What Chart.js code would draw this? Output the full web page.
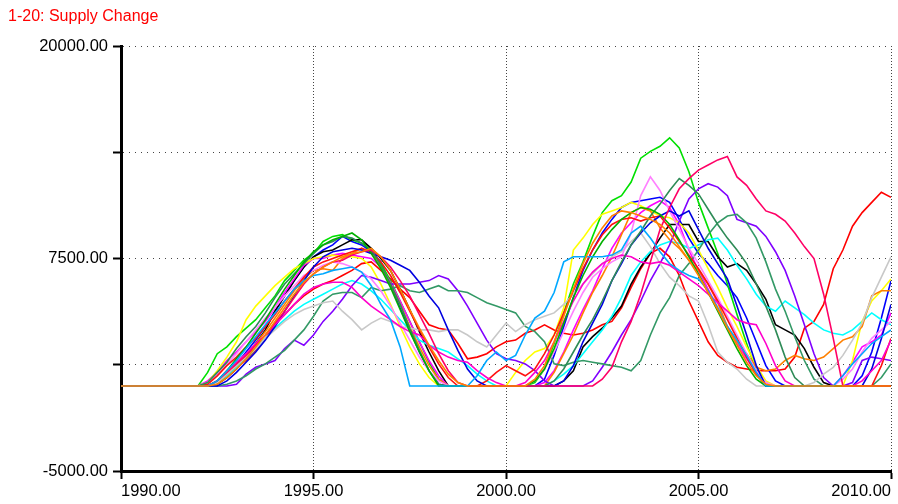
<!DOCTYPE html>
<html>
<head>
<meta charset="utf-8">
<title>Supply Change</title>
<script src="https://cdn.jsdelivr.net/npm/chart.js@4.4.1/dist/chart.umd.min.js"></script>
<style>
  html, body { margin: 0; padding: 0; background: #fff; }
  #chartBox { width: 898px; height: 504px; }
</style>
</head>
<body>
<div id="chartBox"><canvas id="supplyChart" width="898" height="504"></canvas></div>
<script>
// sensitivity runs 1-20, one value every quarter year from 1990.00 to 2010.00
var runTitle = "1-20: Supply Change";

var xTicks = [1990, 1995, 2000, 2005, 2010];
var yTicks = [-5000, 1250, 7500, 13750, 20000];
var yLabelled = [-5000, 7500, 20000];

var redRun = [0,0,0,0, 0,0,0,0, 0,0,300,700, 1100,1500,2100,2800, 3600,4200,4800,5300, 5700,6000,6200,6500,
  6800,7200,7300,6800, 6300,5700,5200,4400, 3600,3400,3300,2500, 1600,1700,1900,2300, 2600,2700,3100,3300,
  3600,3300,3100,3000, 3100,3300,3600,3800, 4600,5800,6900,7800, 8100,7600,6500,5000, 3800,2600,1800,1400,
  1100,1000,900,900, 900,1000,1700,3400, 3800,4800,6900,8000, 9400,10200,10800,11400, 11100];
var blueRun = [0,0,0,0, 0,0,0,0, 0,0,200,700, 1300,2000,2700,3500, 4400,5300,6200,7000, 7600,8000,8300,8800,
  8500,8300,7900,7300, 6000,4600,3300,2000, 900,100,0,0, 0,0,0,0, 0,0,0,0,
  400,1800,3500,5200, 6800,8000,9000,9800, 10500,10800,10900,11000, 11100,10800,9800,8700, 7800,7200,6500,5900,
  5200,4000,2600,1200, 300,0,0,0, 0,0,0,0, 0,600,2000,4000, 6200];
var greenRun = [0,0,0,0, 0,0,0,0, 0,800,1900,2300, 2900,3400,3900,4600, 5300,6200,6800,7400, 7800,8500,8800,8900,
  8600,8400,8000,7200, 6200,5000,3800,2600, 1400,400,0,0, 0,0,0,0, 0,0,0,200,
  1000,2500,4300,6000, 7300,8800,10200,10900, 11200,12000,13400,13800, 14100,14600,14000,12600, 10800,9300,7800,6000,
  4200,2500,900,0, 0,0,0,0, 0,0,0,0, 0,0,0,0, 0];
var blackRun = [0,0,0,0, 0,0,0,0, 0,0,100,500, 1000,1700,2500,3300, 4400,5300,6200,7000, 7600,7900,8000,8300,
  8600,8600,8100,7500, 6800,5700,4500,3200, 2000,900,0,0, 0,0,0,0, 0,0,0,0,
  0,0,300,900, 2300,2900,3400,4000, 4700,6000,7000,7800, 8700,9500,9500,9500, 8500,8500,7600,7000,
  7200,6800,6000,5100, 3600,3300,3000,2200, 1100,200,0,0, 0,0,0,0, 0];
var magentaRun = [0,0,0,0, 0,0,0,0, 0,300,800,1500, 2000,2600,3200,3800, 4600,5500,6300,7100, 7500,7500,7700,7800,
  7700,7600,7500,7000, 6100,5000,3800,2600, 1500,600,0,0, 0,0,0,0, 0,0,0,0,
  200,900,2000,3300, 4500,5600,6900,8100, 9000,9600,10200,10600, 10900,10500,9500,8000, 6800,5700,4600,3500,
  2500,1600,800,200, 0,0,0,0, 0,0,0,600, 1400,2300,2600,3000, 4300];
var cyanRun = [0,0,0,0, 0,0,0,0, 0,0,200,600, 1100,1600,2200,2800, 3400,3900,4400,4800, 5100,5400,5700,6000,
  6200,6000,5600,5100, 4500,3900,3300,2700, 2400,2200,2000,1600, 1200,700,300,0, 0,0,0,0,
  0,300,700,1200, 1900,2600,3300,4100, 5200,6500,7300,7900, 8300,8500,8400,8100, 8300,8600,8700,8000,
  7100,6300,5400,4700, 4400,5000,4600,4200, 3700,3300,3100,3000, 3300,3800,4300,3900, 3600];
var yellowRun = [0,0,0,0, 0,0,0,0, 0,200,900,1700, 2600,3900,4700,5300, 5900,6400,6900,7200, 7500,7600,7700,7600,
  7600,7500,7000,6000, 4800,3500,2300,1300, 500,0,0,0, 0,0,0,0, 0,800,1500,2000,
  2200,3000,4600,8000, 8700,9500,10100,10300, 10500,10800,10600,10300, 10000,9900,9600,9000, 8000,6900,5800,4600,
  3500,2300,1200,300, 0,0,0,0, 0,0,0,0, 1500,3800,5000,5600, 6300];
var amberRun = [0,0,0,0, 0,0,0,0, 0,0,200,700, 1200,1800,2500,3200, 4000,4800,5600,6300, 6800,6900,6800,7500,
  7800,8100,7800,7000, 6000,4800,3500,2300, 1200,400,0,0, 0,0,0,0, 0,0,0,0,
  0,800,1900,3000, 4300,5500,6500,7600, 8900,10200,10500,10300, 9300,8600,8100,7400, 6800,6000,4900,3500,
  2600,1900,1100,900, 1000,1500,1800,1600, 1500,1700,2200,2700, 2900,3500,5300,5600, 5600];
var purpleRun = [0,0,0,0, 0,0,0,0, 0,0,0,0, 100,700,1100,1300, 1500,2200,2700,2400, 3000,3800,4400,5100,
  5900,6500,6400,6200, 6000,6000,6000,6100, 6200,6500,6300,5600, 4700,3700,2700,1900, 1600,1500,1300,900,
  300,0,0,0, 0,300,1100,2000, 3000,3900,5000,6200, 7200,8300,9700,11000, 11600,11900,11700,11200,
  9800,9600,9400,8800, 7900,6800,5300,3600, 1900,500,0,0, 200,1500,1700,1600, 1500];
var seaRun = [0,0,0,0, 0,0,0,0, 0,0,0,100, 300,600,1000,1300, 1700,2100,2700,3300, 4100,5000,5400,5500,
  5500,5200,5800,5600, 5700,5900,5600,5500, 5700,5900,5600,5600, 5500,5200,4900,4700, 4500,4300,3500,3200,
  2600,1300,1200,1400, 1500,1400,1300,1200, 1100,900,1500,3000, 4300,5200,6500,7200, 8000,8900,9600,10000,
  10100,9600,8700,7300, 5700,4400,2900,1500, 400,0,0,0, 0,0,0,500, 1300];
var grayRun = [0,0,0,0, 0,0,0,0, 0,0,200,700, 1200,1700,2200,2800, 3300,3800,4200,4500, 4700,4900,5000,4400,
  3900,3300,3700,4000, 3800,3500,3400,3300, 3300,3200,3300,3300, 3000,2600,2300,3000, 3700,3200,3600,3900,
  4100,4300,4800,5400, 6000,6600,7200,7600, 7900,8500,9000,8200, 7200,6400,5900,5300, 5000,3600,2000,1400,
  1000,400,0,0, 0,0,0,0, 200,700,1100,1800, 2700,3700,5200,6400, 7600];
var violetRun = [0,0,0,0, 0,0,0,0, 0,200,700,1300, 1900,2600,3300,4000, 4600,5300,5900,6500, 6800,7100,7300,7200,
  7000,6700,6300,5600, 4700,3700,2700,1700, 900,300,0,0, 0,0,0,0, 0,0,0,300,
  1000,2000,3200,4400, 5500,6400,6900,7300, 7600,9000,11200,12300, 11500,10300,9200,8100, 7200,6200,5200,4100,
  3000,1900,900,200, 0,0,0,0, 0,0,0,400, 1000,2000,2800,3300, 3800];
var red2Run = [0,0,0,0, 0,0,0,0, 0,100,600,1200, 1700,2300,2800,3500, 4200,5000,5700,6400, 7000,7300,7500,7700,
  7900,8100,7900,7300, 6500,5500,4400,3300, 2300,1300,500,0, 0,0,300,800, 1200,900,600,1000,
  1900,3000,4300,5600, 6900,8000,8900,9500, 9800,9900,9700,9900, 10000,9300,8500,7700, 6900,6000,5000,3900,
  2800,1700,700,0, 0,0,0,0, 0,0,0,0, 0,0,0,1200, 2800];
var blue2Run = [0,0,0,0, 0,0,0,0, 0,0,0,300, 800,1400,2000,2700, 3500,4400,5300,6200, 7000,7600,7900,8000,
  8100,8000,7800,7600, 7400,7100,6800,6100, 5300,4600,3300,2100, 1000,300,0,0, 0,0,0,0,
  0,0,300,1200, 2600,3700,4800,6200, 7200,8300,9000,9600, 10000,10300,10000,10300, 9200,8100,7200,6300,
  4700,3000,1200,0, 0,0,0,0, 0,0,0,0, 0,0,1000,2800, 4800];
var pinkRun = [0,0,0,0, 0,0,0,0, 0,0,300,900, 1400,1900,2500,3000, 3600,4200,4800,5400, 5800,6000,6100,6100,
  5800,5200,4700,4300, 3900,3500,3200,3000, 2400,2000,1700,1500, 1400,900,500,200, 0,0,200,800,
  1500,2600,3800,5000, 6000,6700,7200,7500, 7700,7600,7300,7200, 7300,7100,6700,6300, 5900,5400,4900,4400,
  3900,3700,3600,2500, 1200,300,0,0, 0,0,0,0, 0,300,900,1500, 2700];
var sea2Run = [0,0,0,0, 0,0,0,0, 0,200,800,1400, 2200,2900,3500,4300, 5200,6000,6600,7200, 7800,8300,8500,8800,
  8700,8400,8000,7100, 6000,4800,3400,2100, 900,100,0,0, 0,0,0,0, 0,0,0,0,
  0,300,1000,2000, 3000,3900,5000,6200, 7300,8300,9100,10000, 10700,11500,12200,11800, 11300,10400,9500,8700,
  8000,7200,6000,4700, 3300,1700,500,0, 0,0,0,0, 0,0,0,0, 0];
var green2Run = [0,0,0,0, 0,0,0,0, 0,0,300,900, 1600,2300,3100,3900, 4800,5700,6500,7300, 7900,8300,8600,8800,
  9000,8600,7800,6900, 5800,4500,3200,2000, 900,0,0,0, 0,0,0,0, 0,0,0,300,
  1000,2200,3700,5200, 6500,7600,8500,9200, 9800,10200,10500,10400, 10100,9500,8600,7600, 6600,5500,4400,3300,
  2200,1200,400,0, 0,0,0,0, 0,0,0,0, 0,0,0,0, 0];
var crimsonRun = [0,0,0,0, 0,0,0,0, 0,0,300,800, 1300,1800,2400,3000, 3700,4400,5200,6000, 6600,7000,7300,7400,
  7700,7900,8000,7600, 7000,6200,5300,4200, 3100,1900,900,200, 0,0,0,0, 0,0,0,0,
  0,0,0,0, 0,0,400,1100, 2600,3800,5400,7300, 9200,10500,11600,12200, 12700,13000,13300,13500,
  12300,11800,11000,10300, 10100,9700,9000,8200, 7500,5400,2800,0, 0,0,0,0, 0];
var skyRun = [0,0,0,0, 0,0,0,0, 0,0,300,900, 1500,2200,2900,3600, 4300,5000,5700,6200, 6500,6600,6800,6900,
  7000,6700,5900,4800, 3900,2300,0,0, 0,0,0,0, 0,600,1500,2000, 1500,1800,3000,4000,
  4400,5500,7300,7600, 7600,7600,7600,7700, 8000,9000,9400,8700, 7900,7200,6800,6500, 6300,5600,4600,3500,
  2700,1800,800,0, 0,0,0,0, 0,0,0,600, 1300,1900,2500,2900, 3300];
var orangeRun = [0,0,0,0, 0,0,0,0, 0,0,100,500, 1000,1600,2300,3000, 3800,4600,5400,6100, 6600,7000,7300,7600,
  7800,7900,8100,7600, 6800,5700,4500,3400, 2400,1500,700,200, 0,0,0,0, 0,0,0,400,
  1200,2600,4100,5700, 7200,8400,9300,10000, 10300,10200,10000,9800, 9500,9000,8200,7400, 6500,5500,4500,3400,
  2400,1400,600,100, 0,0,0,0, 0,0,0,0, 0,0,0,0, 0];

// bottom to top drawing order
var runs = [
  {values: redRun, color: "#ff0000"},
  {values: blueRun, color: "#0000ff"},
  {values: greenRun, color: "#00e000"},
  {values: blackRun, color: "#000000"},
  {values: magentaRun, color: "#ff00ff"},
  {values: cyanRun, color: "#00ffff"},
  {values: yellowRun, color: "#ffff00"},
  {values: amberRun, color: "#ff8000"},
  {values: purpleRun, color: "#8000ff"},
  {values: seaRun, color: "#339966"},
  {values: grayRun, color: "#c8c8c8"},
  {values: violetRun, color: "#ff80ff"},
  {values: red2Run, color: "#ff1010"},
  {values: blue2Run, color: "#0000e0"},
  {values: pinkRun, color: "#ff00cc"},
  {values: sea2Run, color: "#2e8b57"},
  {values: green2Run, color: "#00b000"},
  {values: crimsonRun, color: "#ff0066"},
  {values: skyRun, color: "#00a8ff"},
  {values: orangeRun, color: "#ff8000"}
];

// quarter-year time axis
var times = [];
for (var i = 0; i < redRun.length; i++) times.push(1990 + i * 0.25);

var tickFont = {family: "'Liberation Sans', Arial, sans-serif", size: 16.5};

var datasets = runs.map(function(r, idx) {
  return {
    label: "Run " + (idx + 1),
    data: r.values.map(function(v, i) { return {x: times[i], y: v}; }),
    borderColor: r.color,
    borderWidth: 1.6,
    pointRadius: 0,
    tension: 0,
    fill: false,
    order: runs.length - idx
  };
});

var chart = new Chart(document.getElementById("supplyChart"), {
  type: "line",
  data: {datasets: datasets},
  options: {
    responsive: false,
    animation: false,
    events: [],
    layout: {padding: {left: 8, right: 7, top: 0, bottom: 0}},
    plugins: {
      legend: {display: false},
      tooltip: {enabled: false},
      title: {
        display: true,
        text: runTitle,
        align: "start",
        color: "#ff0000",
        font: {family: "'Liberation Sans', Arial, sans-serif", size: 16, weight: "normal"},
        padding: {top: 6.5, bottom: 20.3}
      }
    },
    scales: {
      x: {
        type: "linear",
        min: xTicks[0],
        max: xTicks[xTicks.length - 1],
        afterBuildTicks: function(s) { s.ticks = xTicks.map(function(v) { return {value: v}; }); },
        ticks: {
          align: "inner",
          maxRotation: 0,
          padding: 3,
          color: "#000",
          font: tickFont,
          callback: function(v) { return Number(v).toFixed(2); }
        },
        grid: {color: "#444", lineWidth: 1, tickLength: 8, tickColor: "#000", tickWidth: 2},
        border: {display: true, color: "#000", width: 3, dash: [1, 2]},
        afterFit: function(s) { s.height = 33; s.paddingLeft = 0; s.paddingRight = 0; }
      },
      y: {
        min: yTicks[0],
        max: yTicks[yTicks.length - 1],
        afterBuildTicks: function(s) { s.ticks = yTicks.map(function(v) { return {value: v}; }); },
        ticks: {
          padding: 5,
          color: "#000",
          font: tickFont,
          callback: function(v) { return yLabelled.indexOf(v) >= 0 ? Number(v).toFixed(2) : ""; }
        },
        grid: {color: "#444", lineWidth: 1, tickLength: 8, tickColor: "#000", tickWidth: 2},
        border: {display: true, color: "#000", width: 3, dash: [1, 5]},
        afterFit: function(s) { s.width = 113; s.paddingTop = 0; s.paddingBottom = 0; }
      }
    }
  }
});
</script>
</body>
</html>
